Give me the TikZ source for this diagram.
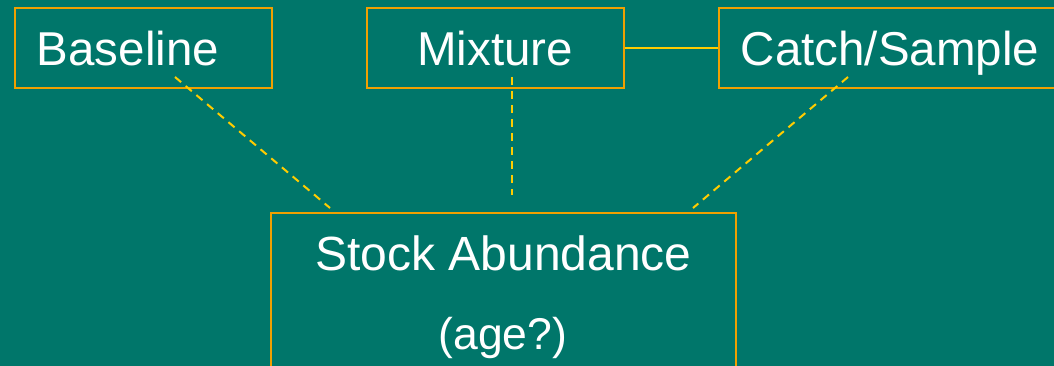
\documentclass[tikz,border=0pt]{standalone}
\usepackage{fontspec}
\setmainfont{Liberation Sans}
\definecolor{bg}{HTML}{00766A}
\definecolor{edge}{HTML}{F0A000}
\definecolor{dash}{HTML}{FFCC00}
\begin{document}
\begin{tikzpicture}[x=1pt,y=-1pt,
  box/.style={draw=edge,line width=2pt,inner sep=0pt},
  lbl/.style={text=white,inner sep=0pt,anchor=base,font=\fontsize{47.5}{56}\selectfont},
  dashlink/.style={draw=dash,line width=2pt,dash pattern=on 8pt off 6pt},
  solidlink/.style={draw=dash,line width=2pt}]
\fill[bg] (0,0) rectangle (1054,366);
\useasboundingbox (0,0) rectangle (1054,366);
\clip (0,0) rectangle (1054,366);
% boxes
\node[box,minimum width=257pt,minimum height=80pt] (base) at (143.5,48) {};
\node[box,minimum width=257pt,minimum height=80pt] (mix) at (495.5,48) {};
\node[box,minimum width=360pt,minimum height=80pt] (catch) at (899,48) {};
\node[box,minimum width=465pt,minimum height=170pt] (stock) at (503.5,298) {};
% labels
\node[lbl] (tbase) at (128,66) {Baseline};
\node[lbl] (tmix) at (495,66) {Mixture};
\node[lbl] (tcatch) at (890,66) {Catch/Sample};
\node[lbl,font=\fontsize{48}{56}\selectfont] (tstock) at (503.5,270) {Stock Abundance};
\node[lbl,font=\fontsize{44.5}{52}\selectfont] (tage) at (503,349) {(age?)};
% connector end points
\coordinate (b1) at (175,77);
\coordinate (b2) at (330,208);
\coordinate (m1) at (512,77);
\coordinate (m2) at (512,195);
\coordinate (c1) at (848,77);
\coordinate (c2) at (693,208);
% connectors
\draw[solidlink] (mix.east) -- (catch.west);
\draw[dashlink] (b1) -- (b2);
\draw[dashlink] (m1) -- (m2);
\draw[dashlink] (c1) -- (c2);
\end{tikzpicture}
\end{document}
